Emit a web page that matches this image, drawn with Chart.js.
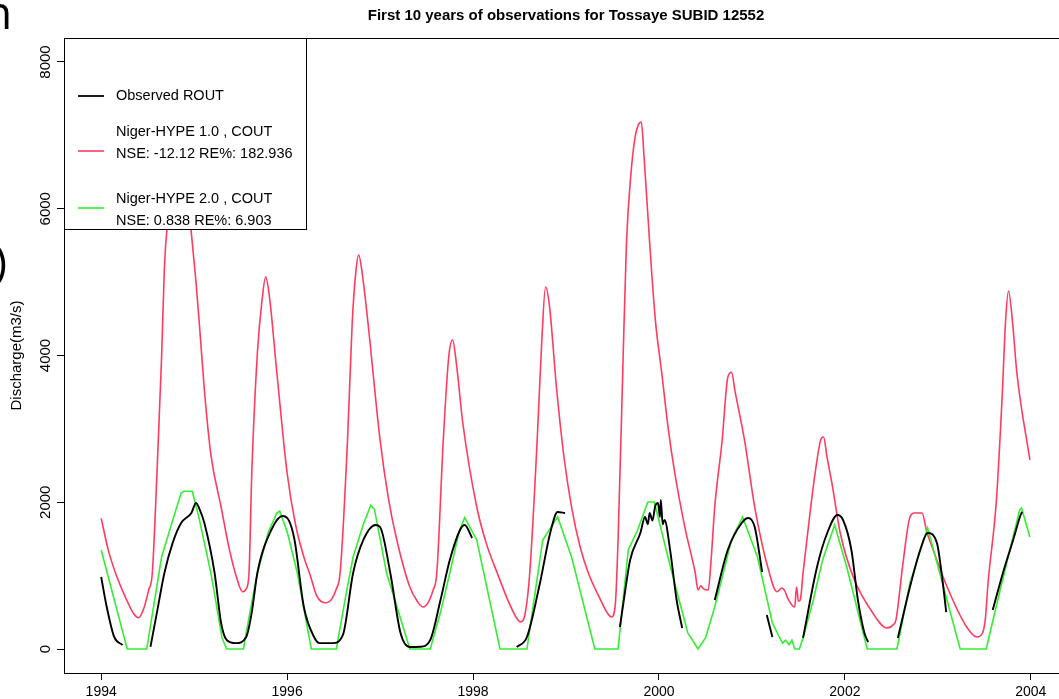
<!DOCTYPE html>
<html>
<head>
<meta charset="utf-8">
<script src="https://cdn.jsdelivr.net/npm/chart.js@4.4.0/dist/chart.umd.min.js"></script>
<style>
  html, body { margin: 0; padding: 0; background: #fff; overflow: hidden; }
  #wrap { position: relative; width: 1100px; height: 699px; }
  .cut { position: absolute; font-family: "Open Sans", sans-serif; color: #000; line-height: 1; }
</style>
</head>
<body>
<div id="wrap">
  <canvas id="chart"></canvas>
  <span class="cut" style="left:-16px; top:-12px; font-size:46px;">n</span>
  <span class="cut" style="left:-6px; top:238px; font-size:44px;">)</span>
</div>
<script>
// tick positions (R style axes)
var xTicks = [1994, 1996, 1998, 2000, 2002, 2004];
var yTicks = [0, 2000, 4000, 6000, 8000];

// Observed ROUT (null = missing observations)
var obsYears = [1994.00, 1994.06, 1994.14, 1994.23, 1994.38, 1994.53, 1994.60, 1994.68, 1994.77, 1994.86, 1994.97, 1995.02, 1995.06, 1995.11, 1995.22, 1995.29, 1995.35, 1995.45, 1995.56, 1995.62, 1995.68, 1995.83, 1995.95, 1996.02, 1996.08, 1996.18, 1996.29, 1996.35, 1996.49, 1996.60, 1996.71, 1996.82, 1996.95, 1997.00, 1997.11, 1997.22, 1997.32, 1997.43, 1997.54, 1997.65, 1997.75, 1997.86, 1997.91, 1997.99, 1998.20, 1998.47, 1998.58, 1998.72, 1998.83, 1998.91, 1998.99, 1999.30, 1999.58, 1999.62, 1999.69, 1999.80, 1999.85, 1999.88, 1999.90, 1999.93, 1999.96, 1999.99, 2000.01, 2000.02, 2000.04, 2000.06, 2000.12, 2000.19, 2000.25, 2000.40, 2000.60, 2000.74, 2000.89, 2000.96, 2001.03, 2001.11, 2001.13, 2001.16, 2001.22, 2001.40, 2001.55, 2001.70, 2001.81, 2001.92, 2001.98, 2002.07, 2002.14, 2002.21, 2002.25, 2002.40, 2002.57, 2002.70, 2002.81, 2002.89, 2002.99, 2003.04, 2003.09, 2003.30, 2003.59, 2003.70, 2003.81, 2003.90, 2003.91];
var obsValues = [981, 572, 164, 55, null, 30, 500, 1036, 1450, 1717, 1854, 1990, 1900, 1717, 1036, 354, 123, 80, 164, 500, 1036, 1622, 1813, 1750, 1486, 572, 164, 80, 80, 191, 1036, 1486, 1690, 1663, 1036, 218, 27, 30, 123, 668, 1213, 1622, 1690, 1513, null, 27, 164, 900, 1581, 1867, 1854, null, 300, 650, 1213, 1581, 1800, 1700, 1854, 1750, 1950, 1990, 1800, 2030, 1700, 1758, 1349, 668, 286, null, 668, 1349, 1717, 1786, 1663, 1050, null, 463, 164, null, 150, 1118, 1581, 1826, 1758, 1349, 668, 218, 95, null, 150, 845, 1349, 1581, 1445, 1036, 504, null, 531, 1036, 1486, 1854, 1867];

// Niger-HYPE 1.0, COUT
var hype1Years = [1994.00, 1994.08, 1994.17, 1994.27, 1994.35, 1994.40, 1994.46, 1994.51, 1994.55, 1994.60, 1994.65, 1994.68, 1994.72, 1994.78, 1994.84, 1994.90, 1994.96, 1995.02, 1995.07, 1995.11, 1995.18, 1995.29, 1995.38, 1995.46, 1995.52, 1995.56, 1995.59, 1995.62, 1995.68, 1995.73, 1995.77, 1995.81, 1995.89, 1996.00, 1996.09, 1996.18, 1996.25, 1996.32, 1996.41, 1996.48, 1996.53, 1996.57, 1996.65, 1996.70, 1996.74, 1996.77, 1996.81, 1996.87, 1997.00, 1997.09, 1997.18, 1997.32, 1997.40, 1997.46, 1997.52, 1997.57, 1997.61, 1997.68, 1997.74, 1997.78, 1997.82, 1997.89, 1998.04, 1998.14, 1998.26, 1998.38, 1998.46, 1998.51, 1998.56, 1998.61, 1998.69, 1998.74, 1998.78, 1998.82, 1998.90, 1998.98, 1999.06, 1999.15, 1999.24, 1999.36, 1999.45, 1999.49, 1999.53, 1999.56, 1999.61, 1999.65, 1999.70, 1999.74, 1999.78, 1999.81, 1999.84, 1999.90, 1999.96, 2000.03, 2000.10, 2000.17, 2000.28, 2000.39, 2000.42, 2000.45, 2000.48, 2000.53, 2000.56, 2000.60, 2000.68, 2000.74, 2000.78, 2000.82, 2000.92, 2001.03, 2001.17, 2001.27, 2001.32, 2001.35, 2001.39, 2001.46, 2001.48, 2001.50, 2001.52, 2001.55, 2001.62, 2001.68, 2001.74, 2001.77, 2001.81, 2001.86, 2001.95, 2002.09, 2002.30, 2002.45, 2002.52, 2002.55, 2002.62, 2002.70, 2002.75, 2002.83, 2002.88, 2002.95, 2003.10, 2003.31, 2003.42, 2003.48, 2003.51, 2003.54, 2003.63, 2003.69, 2003.73, 2003.76, 2003.80, 2003.85, 2003.99];
var hype1Values = [1780, 1330, 980, 680, 480, 425, 560, 800, 1036, 2399, 3980, 5200, 5900, 6550, 6800, 6500, 5800, 5000, 4200, 3530, 2650, 1935, 1350, 960, 780, 820, 1036, 2399, 4034, 4750, 5071, 4800, 3762, 2399, 1700, 1254, 1000, 720, 630, 680, 820, 1036, 2849, 4443, 5150, 5370, 5100, 4443, 2849, 2050, 1486, 845, 650, 572, 640, 800, 1036, 2849, 4000, 4211, 3900, 3080, 1935, 1450, 1036, 650, 440, 370, 480, 1036, 2849, 4211, 4934, 4700, 3530, 2600, 1935, 1400, 1036, 700, 480, 436, 600, 1486, 3762, 5520, 6500, 6950, 7150, 7183, 6700, 5534, 4500, 3762, 3000, 2399, 1650, 1036, 804, 860, 820, 804, 1200, 1935, 2849, 3700, 3770, 3500, 2849, 1935, 1118, 780, 831, 800, 680, 572, 845, 650, 668, 1036, 1800, 2399, 2850, 2890, 2600, 2263, 1581, 981, 491, 286, 330, 400, 1118, 1800, 1854, 1854, 1600, 1349, 845, 300, 164, 218, 400, 900, 2031, 3394, 4500, 4880, 4500, 3762, 2576];

// Niger-HYPE 2.0, COUT
var hype2Years = [1994.00, 1994.28, 1994.49, 1994.57, 1994.65, 1994.78, 1994.86, 1994.89, 1994.98, 1995.05, 1995.18, 1995.30, 1995.35, 1995.53, 1995.60, 1995.68, 1995.80, 1995.89, 1995.92, 1996.00, 1996.11, 1996.26, 1996.53, 1996.62, 1996.71, 1996.82, 1996.90, 1996.94, 1997.07, 1997.32, 1997.54, 1997.65, 1997.75, 1997.85, 1997.91, 1998.04, 1998.29, 1998.58, 1998.66, 1998.75, 1998.91, 1999.06, 1999.31, 1999.56, 1999.67, 1999.77, 1999.88, 1999.95, 2000.14, 2000.31, 2000.42, 2000.50, 2000.60, 2000.78, 2000.90, 2001.06, 2001.22, 2001.30, 2001.33, 2001.36, 2001.40, 2001.43, 2001.46, 2001.51, 2001.55, 2001.66, 2001.76, 2001.89, 2002.02, 2002.24, 2002.56, 2002.70, 2002.89, 2003.02, 2003.24, 2003.52, 2003.67, 2003.88, 2003.90, 2003.99];
var hype2Values = [1349, 0, 0, 630, 1254, 1800, 2126, 2150, 2150, 1800, 1036, 150, 0, 0, 500, 1036, 1600, 1854, 1880, 1600, 1036, 0, 0, 650, 1254, 1700, 1960, 1900, 1036, 0, 0, 500, 1036, 1600, 1790, 1486, 0, 0, 700, 1486, 1800, 1254, 0, 0, 1349, 1622, 2004, 2004, 1036, 218, 0, 150, 572, 1486, 1800, 1254, 354, 150, 80, 120, 60, 120, 0, 0, 150, 668, 1213, 1690, 1118, 0, 0, 900, 1649, 1036, 0, 0, 804, 1895, 1922, 1527];

var legendItems = [
  { color: '#000000', lines: ['Observed ROUT'] },
  { color: '#ff3c5f', lines: ['Niger-HYPE 1.0 , COUT', 'NSE: -12.12 RE%: 182.936'] },
  { color: '#33ee33', lines: ['Niger-HYPE 2.0 , COUT', 'NSE: 0.838 RE%: 6.903'] }
];

function pts(xs, ys) {
  return xs.map(function (x, i) { return { x: x, y: ys[i] }; });
}

var FONT = '"Liberation Sans", Arial, sans-serif';

// R-style frame, rotated y labels, title and legend box
var rPlot = {
  id: 'rPlot',
  afterDatasetsDraw: function (chart) {
    var c = chart.ctx, a = chart.chartArea, y = chart.scales.y;
    c.save();
    c.strokeStyle = '#000';
    c.lineWidth = 1;
    c.strokeRect(Math.round(a.left) + 0.5, Math.round(a.top) + 0.5, a.right - a.left, a.bottom - a.top);

    // y tick labels (vertical, like las=0)
    c.fillStyle = '#000';
    c.font = '15px ' + FONT;
    c.textAlign = 'center';
    c.textBaseline = 'middle';
    yTicks.forEach(function (v) {
      c.save();
      c.translate(46, y.getPixelForValue(v));
      c.rotate(-Math.PI / 2);
      c.fillText(String(v), 0, 0);
      c.restore();
    });

    // y axis title
    c.save();
    c.translate(17, (a.top + a.bottom) / 2);
    c.rotate(-Math.PI / 2);
    c.fillText('Discharge(m3/s)', 0, 0);
    c.restore();

    // main title
    c.font = 'bold 15px ' + FONT;
    c.fillText('First 10 years of observations for Tossaye SUBID 12552', (a.left + a.right) / 2, 16);

    // legend
    var lx = a.left, ly = a.top, lw = 242, lh = 191;
    c.fillStyle = '#fff';
    c.fillRect(lx, ly, lw, lh);
    c.strokeRect(lx + 0.5, ly + 0.5, lw, lh);
    c.font = '14.5px ' + FONT;
    c.textAlign = 'left';
    var rows = [[96], [132, 154], [199, 221]];
    var marks = [96, 151, 208];
    legendItems.forEach(function (it, i) {
      c.strokeStyle = it.color;
      c.lineWidth = i === 0 ? 1.8 : 1.6;
      c.beginPath();
      c.moveTo(lx + 14, marks[i]);
      c.lineTo(lx + 40, marks[i]);
      c.stroke();
      c.fillStyle = '#000';
      it.lines.forEach(function (t, j) { c.fillText(t, lx + 52, rows[i][j]); });
    });
    c.restore();
  }
};

var ctx = document.getElementById('chart').getContext('2d');
new Chart(ctx, {
  type: 'line',
  data: {
    datasets: [
      { label: 'Observed ROUT', data: pts(obsYears, obsValues), borderColor: '#000000', borderWidth: 1.9, pointRadius: 0, spanGaps: false, cubicInterpolationMode: 'monotone', order: 0 },
      { label: 'Niger-HYPE 1.0 , COUT', data: pts(hype1Years, hype1Values), borderColor: '#ff3c5f', borderWidth: 1.6, pointRadius: 0, cubicInterpolationMode: 'monotone', order: 2 },
      { label: 'Niger-HYPE 2.0 , COUT', data: pts(hype2Years, hype2Values), borderColor: '#33ee33', borderWidth: 1.6, pointRadius: 0, tension: 0, order: 1 }
    ]
  },
  options: {
    animation: false,
    responsive: true,
    maintainAspectRatio: false,
    layout: { padding: { top: 38, right: 32, left: 0, bottom: 0 } },
    plugins: { legend: { display: false }, title: { display: false }, tooltip: { enabled: false } },
    scales: {
      x: {
        type: 'linear',
        min: 1993.6,
        max: 2004.4,
        afterBuildTicks: function (s) { s.ticks = xTicks.map(function (v) { return { value: v }; }); },
        afterFit: function (s) { s.height = 26; },
        border: { display: false },
        grid: { drawOnChartArea: false, tickLength: 7, tickColor: '#000', color: '#000' },
        ticks: { callback: function (v) { return String(v); }, font: { family: FONT, size: 14 }, color: '#000', padding: 4, maxRotation: 0, autoSkip: false }
      },
      y: {
        min: -327,
        max: 8327,
        afterBuildTicks: function (s) { s.ticks = yTicks.map(function (v) { return { value: v }; }); },
        afterFit: function (s) { s.width = 64; },
        border: { display: false },
        grid: { drawOnChartArea: false, tickLength: 7, tickColor: '#000', color: '#000' },
        ticks: { display: false }
      }
    }
  },
  plugins: [rPlot]
});
</script>
</body>
</html>
